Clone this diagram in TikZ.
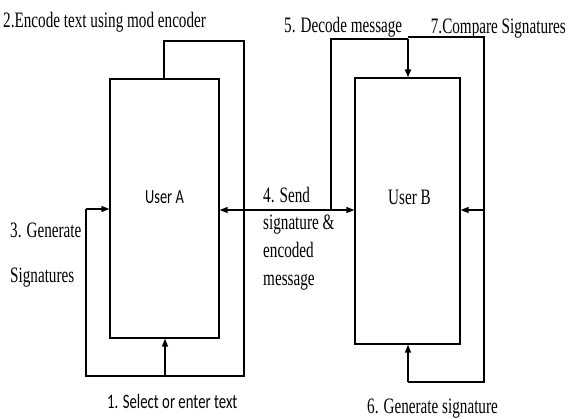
\documentclass[tikz,border=0pt]{standalone}
\usepackage{fontspec}
\setmainfont{Liberation Serif}
\newfontfamily\narrowserif[FakeStretch=0.69]{Liberation Serif}
\newfontfamily\narrowsans[FakeStretch=0.72]{Carlito}
\usetikzlibrary{arrows.meta}
\begin{document}
\begin{tikzpicture}[x=1pt,y=-1pt,
  wire/.style={line width=1.3pt, line join=miter},
  arr/.style={wire, -{Triangle[length=8pt,width=6pt]}},
  arrboth/.style={wire, {Triangle[length=8pt,width=6pt]}-{Triangle[length=8pt,width=6pt]}},
  userbox/.style={draw, wire, rectangle, inner sep=0pt},
  serlabel/.style={inner sep=0pt, font=\narrowserif\fontsize{22}{26}\selectfont},
  sanslabel/.style={inner sep=0pt, font=\narrowsans\fontsize{20.5}{24}\selectfont}]
\useasboundingbox (0,0) rectangle (568,419);

% the two users
\node[userbox, minimum width=109pt, minimum height=259pt] (A) at (164.5,208.5) {};
\node[userbox, minimum width=105pt, minimum height=266pt] (B) at (407.5,211) {};
\node[sanslabel, font=\narrowsans\fontsize{20}{24}\selectfont, anchor=base west] (ua) at (145,204) {User A};
\node[serlabel, anchor=base west] (ub) at (388,205) {User B};

% corner points of the loops
\coordinate (aTop) at (164,41);
\coordinate (aRight) at (244,376);
\coordinate (aLeft) at (86,209);
\coordinate (aBot) at (165,376);
\coordinate (mid) at (300,210);
\coordinate (dLeft) at (331,210);
\coordinate (dTop) at (408,39);
\coordinate (cBot) at (408,382);
\coordinate (cTop) at (484,37);

% User A: encode loop, signature loop and text input
\draw[wire] (A.north -| aTop) |- (aRight |- aTop) -- (aRight) -| (aLeft);
\draw[arr] (aLeft) -- (aLeft -| A.west);
\draw[arr] (aBot) -- (aBot |- A.south);

% sending signature and message
\draw[arrboth] (A.east |- mid) -- (B.west |- mid);

% User B: decode, compare and generate
\draw[wire] (dLeft) |- (dTop);
\draw[arr, line width=1.8pt] (dTop) -- (dTop |- B.north);
\draw[arr] (cBot) -- (cBot |- B.south);
\draw[wire] (cBot) -| (cTop) -- (cTop -| dTop);
\draw[arr] (cTop |- mid) -- (B.east |- mid);

% step labels
\node[serlabel, anchor=base west] (s2) at (3,28) {2.Encode text using mod encoder};
\node[serlabel, anchor=base west] (s5) at (284,33) {5. Decode message};
\node[serlabel, anchor=base east] (s7) at (566,34) {7.Compare Signatures};
\node[serlabel, anchor=base west] (s3a) at (10,238) {3. Generate};
\node[serlabel, anchor=base west] (s3b) at (10,283) {Signatures};
\node[serlabel, anchor=base west] (s4a) at (263,203) {4. Send};
\node[serlabel, anchor=base west] (s4b) at (263,230) {signature \&};
\node[serlabel, anchor=base west] (s4c) at (263,258) {encoded};
\node[serlabel, anchor=base west] (s4d) at (263,286) {message};
\node[sanslabel, anchor=base west] (s1) at (107,409) {1. Select or enter text};
\node[serlabel, anchor=base west] (s6) at (367,414) {6. Generate signature};
\end{tikzpicture}
\end{document}
